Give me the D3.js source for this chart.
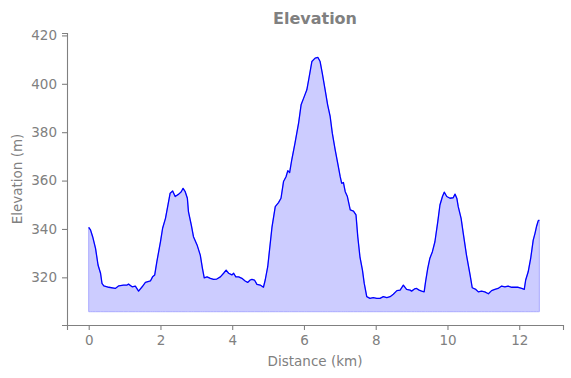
<!DOCTYPE html>
<html>
<head>
<meta charset="utf-8">
<script src="https://cdn.jsdelivr.net/npm/d3@7"></script>
<style>
  html, body { margin: 0; padding: 0; background: #fff; }
  svg text { font-family: "DejaVu Sans", sans-serif; fill: #808080; }
</style>
</head>
<body>
<div id="wrapper"></div>
<script>
'use strict';

// data
const distanceKm = [
  0, 0.05, 0.11, 0.19, 0.26, 0.33, 0.37, 0.42, 0.56, 0.74, 0.84, 0.97, 1.07, 1.11, 1.21, 1.30,
  1.39, 1.49, 1.58, 1.72, 1.78, 1.84, 1.90, 2.00, 2.06, 2.14, 2.21, 2.27, 2.34, 2.41, 2.51, 2.58,
  2.63, 2.69, 2.75, 2.78, 2.86, 2.92, 3.02, 3.11, 3.17, 3.22, 3.30, 3.39, 3.48, 3.57, 3.67, 3.76,
  3.83, 3.90, 3.99, 4.04, 4.10, 4.18, 4.27, 4.36, 4.43, 4.50, 4.55, 4.62, 4.69, 4.78, 4.87, 4.92,
  4.99, 5.04, 5.11, 5.20, 5.29, 5.36, 5.43, 5.50, 5.55, 5.60, 5.66, 5.75, 5.85, 5.92, 6.01, 6.08,
  6.14, 6.22, 6.31, 6.39, 6.45, 6.51, 6.59, 6.66, 6.73, 6.79, 6.87, 6.94, 7.01, 7.05, 7.10, 7.15,
  7.21, 7.29, 7.38, 7.45, 7.50, 7.56, 7.63, 7.68, 7.75, 7.84, 7.93, 8.03, 8.12, 8.21, 8.31, 8.40,
  8.49, 8.59, 8.68, 8.77, 8.86, 8.96, 9.00, 9.08, 9.14, 9.21, 9.28, 9.35, 9.39, 9.45, 9.51, 9.58,
  9.65, 9.73, 9.79, 9.86, 9.91, 9.98, 10.07, 10.16, 10.21, 10.26, 10.30, 10.38, 10.44, 10.53,
  10.63, 10.69, 10.79, 10.86, 10.95, 11.04, 11.14, 11.23, 11.32, 11.41, 11.51, 11.60, 11.69,
  11.79, 11.88, 11.97, 12.07, 12.14, 12.18, 12.25, 12.32, 12.39, 12.44, 12.48, 12.53, 12.56,
];
const elevationM = [
  340.7, 339.6, 336.8, 332.0, 325.1, 321.7, 317.5, 316.5, 315.9, 315.4, 316.5, 316.8, 316.8, 317.2, 316.1, 316.4,
  314.3, 316.1, 317.9, 318.5, 320.2, 321.0, 326.5, 334.7, 340.3, 344.4, 350.0, 354.8, 355.7, 353.4, 354.4, 355.4,
  356.8, 355.4, 352.7, 347.2, 341.6, 336.8, 333.4, 329.2, 323.7, 319.8, 320.2, 319.6, 319.2, 319.3, 320.2, 321.7,
  323.0, 321.7, 321.0, 321.7, 320.2, 320.2, 319.6, 318.5, 317.9, 318.9, 319.2, 318.9, 317.1, 316.8, 315.9, 318.9,
  324.4, 331.3, 340.9, 349.2, 350.9, 352.7, 359.6, 361.6, 364.1, 363.3, 368.6, 375.5, 383.7, 391.3, 394.8, 397.5,
  402.4, 409.2, 410.6, 410.9, 409.2, 404.4, 397.5, 391.3, 386.5, 379.6, 372.7, 367.2, 361.6, 358.9, 359.2, 355.4,
  353.4, 347.9, 347.4, 345.8, 336.8, 328.5, 323.0, 317.5, 312.0, 311.3, 311.6, 311.3, 311.3, 312.0, 311.6, 312.0,
  313.0, 314.5, 314.7, 316.8, 315.0, 314.7, 314.3, 315.2, 315.4, 314.7, 314.3, 314.0, 318.2, 323.7, 327.9, 330.6,
  334.7, 343.0, 349.9, 353.4, 355.2, 353.4, 352.7, 352.9, 354.4, 352.7, 349.2, 344.4, 338.2, 329.2,
  321.0, 315.7, 315.0, 314.0, 314.3, 314.0, 313.2, 314.5, 315.0, 315.4, 316.4, 316.1, 316.4,
  315.9, 315.9, 315.9, 315.4, 315.0, 318.9, 322.3, 327.9, 335.4, 338.2, 340.9, 343.4, 343.7,
];
const fillBaseline = 305.8;
const xTicks = [0, 2, 4, 6, 8, 10, 12];
const yTicks = [320, 340, 360, 380, 400, 420];

const dataset = distanceKm.map((d, i) => ({ distance: d, elevation: elevationM[i] }));

function drawElevation () {

  const xAccessor = d => d.distance;
  const yAccessor = d => d.elevation;

  const dimensions = {
    width: 571,
    height: 378,
    margin: { top: 33, right: 8, bottom: 53, left: 67 },
  };
  dimensions.boundedWidth = dimensions.width - dimensions.margin.left - dimensions.margin.right;
  dimensions.boundedHeight = dimensions.height - dimensions.margin.top - dimensions.margin.bottom;

  // matplotlib-like padding around the data
  const xScale = d3.scaleLinear()
    .domain([-0.605, 13.22])
    .range([0, dimensions.boundedWidth]);

  const yScale = d3.scaleLinear()
    .domain([300.3, 421])
    .range([dimensions.boundedHeight, 0]);

  const wrapper = d3.select('#wrapper')
    .append('svg')
    .attr('width', dimensions.width)
    .attr('height', dimensions.height);

  const bounds = wrapper.append('g')
    .attr('transform', `translate(${dimensions.margin.left}, ${dimensions.margin.top})`);

  // shaded area under the profile
  const areaGenerator = d3.area()
    .x(d => xScale(xAccessor(d)))
    .y0(yScale(fillBaseline))
    .y1(d => yScale(yAccessor(d)));

  bounds.append('path')
    .attr('d', areaGenerator(dataset))
    .attr('fill', 'rgb(204, 204, 255)')
    .attr('stroke', 'rgb(170, 170, 255)')
    .attr('stroke-width', 1);

  const lineGenerator = d3.line()
    .x(d => xScale(xAccessor(d)))
    .y(d => yScale(yAccessor(d)));

  bounds.append('path')
    .attr('d', lineGenerator(dataset))
    .attr('fill', 'none')
    .attr('stroke', '#0000ff')
    .attr('stroke-width', 1.3)
    .attr('stroke-linejoin', 'round');

  // axes
  const xAxis = bounds.append('g')
    .attr('transform', `translate(0, ${dimensions.boundedHeight})`)
    .call(d3.axisBottom(xScale).tickValues(xTicks).tickSizeOuter(0).tickSize(5).tickPadding(5));

  const yAxis = bounds.append('g')
    .call(d3.axisLeft(yScale).tickValues(yTicks).tickSizeOuter(0).tickSize(5).tickPadding(5));

  [xAxis, yAxis].forEach(axis => {
    axis.selectAll('path, line').attr('stroke', '#808080').attr('stroke-width', 1.1);
    axis.selectAll('text')
      .attr('fill', '#808080')
      .style('font-size', '13.5px')
      .style('font-family', '"DejaVu Sans", sans-serif');
  });

  // labels
  wrapper.append('text')
    .attr('x', dimensions.margin.left + dimensions.boundedWidth / 2)
    .attr('y', 24)
    .attr('text-anchor', 'middle')
    .style('font-size', '16px')
    .style('font-weight', 'bold')
    .text('Elevation');

  wrapper.append('text')
    .attr('x', dimensions.margin.left + dimensions.boundedWidth / 2)
    .attr('y', 366)
    .attr('text-anchor', 'middle')
    .style('font-size', '13.5px')
    .text('Distance (km)');

  wrapper.append('text')
    .attr('transform', `translate(22, ${dimensions.margin.top + dimensions.boundedHeight / 2}) rotate(-90)`)
    .attr('text-anchor', 'middle')
    .style('font-size', '13.5px')
    .text('Elevation (m)');
}

drawElevation();
</script>
</body>
</html>
